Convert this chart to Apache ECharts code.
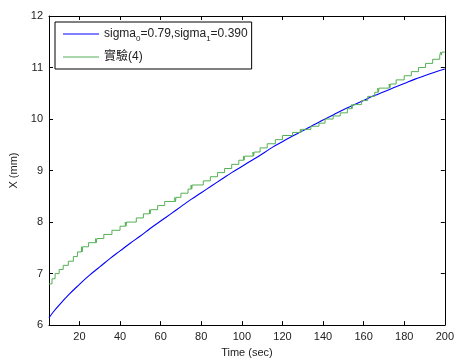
<!DOCTYPE html>
<html>
<head>
<meta charset="utf-8">
<script src="https://cdn.jsdelivr.net/npm/echarts@6/dist/echarts.min.js"></script>
<style>html,body{margin:0;padding:0;background:#fff;}#c{width:457px;height:363px;}</style>
</head>
<body>
<div id="c"></div>
<script>
// Data
const xTicks = [20, 40, 60, 80, 100, 120, 140, 160, 180, 200];
const yTicks = [6, 7, 8, 9, 10, 11, 12];

// Model curve (blue)
const modelTime = [5, 7, 10, 15, 20, 25, 30, 35, 40, 45, 50, 55, 60, 65, 70, 75, 80, 85, 90, 95, 100,
  105, 110, 115, 120, 125, 130, 135, 140, 145, 150, 155, 160, 165, 170, 175, 180, 185, 190, 195, 200];
const modelX = [6.14, 6.25, 6.39, 6.60, 6.79, 6.97, 7.13, 7.29, 7.44, 7.59, 7.73, 7.88, 8.02, 8.16, 8.30, 8.44, 8.57, 8.70, 8.83, 8.96, 9.08,
  9.20, 9.32, 9.45, 9.56, 9.67, 9.77, 9.88, 9.98, 10.08, 10.18, 10.27, 10.36, 10.45, 10.53, 10.61, 10.69, 10.77, 10.84, 10.91, 10.97];

// Experiment (green), staircase: time at which each level starts
const expTime = [5, 6.5, 8, 10, 12, 14.5, 17, 19, 21, 21.3, 21.6, 24.5, 28, 28.3, 28.6, 32, 36, 40, 42.6, 42.9, 43.2, 48, 51.5, 54.5, 54.8, 55.1, 58.5, 62,
  67, 67.3, 67.6, 70, 73.5, 75, 75.3, 75.6, 77, 81, 84.5, 88, 91.5, 95, 98.5, 100.8, 101.1, 101.4, 105.5, 105.8, 106.1, 109, 112.5,
  116.5, 120, 125, 128.8, 129.1, 129.4, 134, 138, 141, 145, 148.5, 152, 154, 154.3, 154.6, 159, 162, 165.5, 167, 167.3, 167.6, 172.6, 172.9, 173.2,
  176, 180, 183.5, 187, 190.5, 194, 197.5, 198, 198.3, 198.6, 199.5, 200];
const expX = [6.80, 6.90, 7.00, 7.08, 7.16, 7.24, 7.33, 7.42, 7.52, 7.42, 7.52, 7.60, 7.68, 7.60, 7.68, 7.76, 7.84, 7.92, 8.00, 7.92, 8.00, 8.08, 8.16, 8.24, 8.16, 8.24, 8.32, 8.40,
  8.48, 8.40, 8.48, 8.56, 8.64, 8.72, 8.64, 8.72, 8.72, 8.80, 8.88, 8.96, 9.04, 9.12, 9.20, 9.28, 9.20, 9.28, 9.36, 9.28, 9.36, 9.44, 9.52,
  9.60, 9.68, 9.74, 9.80, 9.74, 9.80, 9.86, 9.92, 10.00, 10.06, 10.12, 10.20, 10.28, 10.20, 10.28, 10.36, 10.44, 10.52, 10.60, 10.52, 10.60, 10.68, 10.60, 10.68,
  10.76, 10.84, 10.92, 11.00, 11.08, 11.16, 11.24, 11.30, 11.24, 11.30, 11.30, 11.30];

const legendNames = ['sigma0', '實驗(4)'];

const font = 'Arial, "Liberation Sans", "Noto Sans CJK TC", sans-serif';
const chart = echarts.init(document.getElementById('c'), null, {renderer: 'canvas'});

function zip(a, b) { return a.map((v, i) => [v, b[i]]); }

const commonAxis = {
  axisLine: {show: true, onZero: false, lineStyle: {color: '#000', width: 1}},
  splitLine: {show: false}
};

chart.setOption({
  animation: false,
  backgroundColor: '#fff',
  grid: {left: 49, right: 11, top: 16, bottom: 35, containLabel: false},
  legend: {
    data: legendNames,
    left: 55, top: 22,
    orient: 'vertical',
    icon: 'rect',
    itemWidth: 36, itemHeight: 1, itemGap: 5,
    padding: [3, 4, 3, 8],
    borderColor: '#000', borderWidth: 1, borderRadius: 0,
    backgroundColor: '#fff',
    formatter: function (name) {
      if (name === 'sigma0') return 'sigma{s|0}=0.79,sigma{s|1}=0.390';
      return name;
    },
    textStyle: {
      fontFamily: font, fontSize: 12, color: '#222', lineHeight: 18,
      rich: {s: {fontSize: 8, fontFamily: font, color: '#222', lineHeight: 8, verticalAlign: 'bottom'}}
    }
  },
  xAxis: [{
    type: 'value', min: 5, max: 200, position: 'bottom',
    ...commonAxis,
    name: 'Time (sec)', nameLocation: 'middle', nameGap: 18,
    nameTextStyle: {fontFamily: font, fontSize: 11, color: '#222'},
    axisTick: {show: true, inside: true, length: 4, customValues: xTicks, lineStyle: {color: '#000'}},
    axisLabel: {show: true, customValues: xTicks, fontFamily: font, fontSize: 11, color: '#222', margin: 6}
  }, {
    type: 'value', min: 5, max: 200, position: 'top',
    ...commonAxis,
    axisTick: {show: true, inside: true, length: 4, customValues: xTicks, lineStyle: {color: '#000'}},
    axisLabel: {show: false}
  }],
  yAxis: [{
    type: 'value', min: 6, max: 12, interval: 1, position: 'left',
    ...commonAxis,
    name: 'X (mm)', nameLocation: 'middle', nameGap: 27, nameRotate: 90,
    nameTextStyle: {fontFamily: font, fontSize: 11, color: '#222'},
    axisTick: {show: true, inside: true, length: 4, lineStyle: {color: '#000'}},
    axisLabel: {show: true, fontFamily: font, fontSize: 11, color: '#222', margin: 6}
  }, {
    type: 'value', min: 6, max: 12, interval: 1, position: 'right',
    ...commonAxis,
    axisTick: {show: true, inside: true, length: 4, lineStyle: {color: '#000'}},
    axisLabel: {show: false}
  }],
  series: [{
    name: 'sigma0', type: 'line', symbol: 'none', smooth: true,
    data: zip(modelTime, modelX),
    lineStyle: {color: '#0000ff', width: 1.1}, itemStyle: {color: '#0000ff'}
  }, {
    name: '實驗(4)', type: 'line', symbol: 'none', step: 'end',
    data: zip(expTime, expX),
    lineStyle: {color: '#55b055', width: 1}, itemStyle: {color: '#55b055'}
  }]
});
</script>
</body>
</html>
